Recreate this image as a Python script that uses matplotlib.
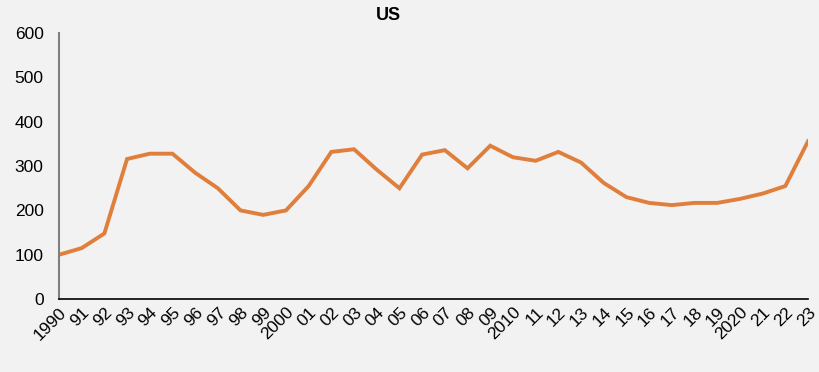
import matplotlib
matplotlib.use("Agg")
import matplotlib.pyplot as plt

years = ["1990", "91", "92", "93", "94", "95", "96", "97", "98", "99", "2000",
         "01", "02", "03", "04", "05", "06", "07", "08", "09", "2010",
         "11", "12", "13", "14", "15", "16", "17", "18", "19", "2020",
         "21", "22", "23"]
values = [100, 115, 148, 316, 328, 328, 285, 250, 200, 190, 200,
          255, 332, 338, 292, 250, 326, 336, 295, 346, 320,
          312, 332, 308, 262, 230, 217, 212, 217, 217, 226,
          238, 255, 356]

plt.rcParams['font.family'] = ['Liberation Sans', 'DejaVu Sans']
bg = "#f2f2f2"
fig = plt.figure(figsize=(8.19, 3.72), dpi=100, facecolor=bg)
ax = fig.add_axes([0.072, 0.196, 0.9146, 0.715])
ax.set_facecolor(bg)

x = list(range(len(years)))
ax.plot(x, values, color="#e07f3c", linewidth=2.8, solid_joinstyle="miter")

ax.set_xlim(0, len(years) - 1)
ax.set_ylim(0, 600)
ax.set_yticks(range(0, 601, 100))
ax.set_xticks(x)
ax.set_xticklabels(years, rotation=45, ha="right", rotation_mode="anchor")
ax.tick_params(axis="both", length=0, labelsize=12.5, colors="black")
ax.tick_params(axis="y", pad=11)
ax.tick_params(axis="x", pad=4)

for s in ["top", "right"]:
    ax.spines[s].set_visible(False)
ax.spines["left"].set_color("#7f7f7f")
ax.spines["left"].set_linewidth(1.5)
ax.spines["bottom"].set_color("black")
ax.spines["bottom"].set_linewidth(1.2)

fig.text(388 / 819, 1 - 16 / 372, "US", ha="center", va="center",
         fontsize=13, fontweight="bold")

fig.savefig("out.png", dpi=100, facecolor=bg)
